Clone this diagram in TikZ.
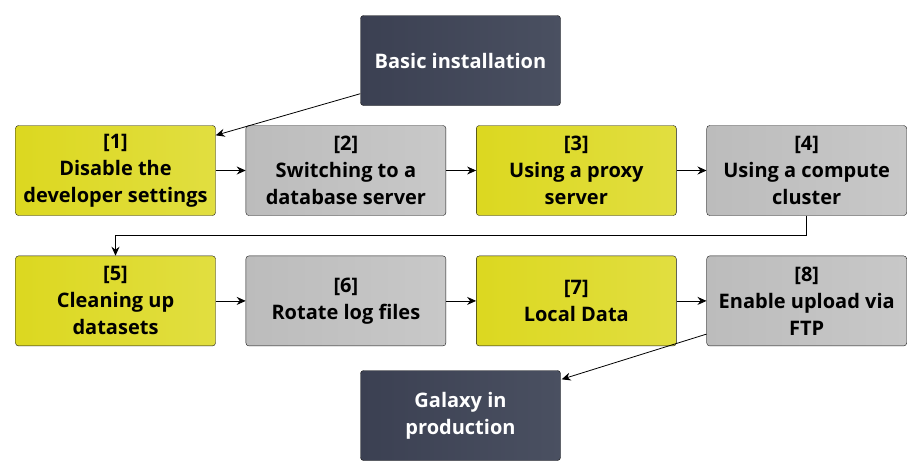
\documentclass[tikz,border=0pt]{standalone}
\usepackage{fontspec}
\setmainfont{Open Sans}
\usepackage{tikz}
\usetikzlibrary{positioning,arrows.meta}
\definecolor{yelL}{HTML}{DCD820}
\definecolor{yelM}{HTML}{D7D300}
\definecolor{yelR}{HTML}{E1DE40}
\definecolor{grL}{HTML}{BCBCBC}
\definecolor{grM}{HTML}{B0B0B0}
\definecolor{grR}{HTML}{C8C8C8}
\definecolor{dkL}{HTML}{3B4052}
\definecolor{dkM}{HTML}{2A2F42}
\definecolor{dkR}{HTML}{4A5061}
\definecolor{edge}{HTML}{181818}
\tikzset{stepbox/.style={draw=edge,rounded corners=3pt,minimum width=200pt,minimum height=90pt,
  align=center,font=\fontsize{20}{27}\selectfont\bfseries,inner sep=0pt},
yelbox/.style={stepbox,left color=yelL,middle color=yelM,right color=yelR},
greybox/.style={stepbox,left color=grL,middle color=grM,right color=grR},
darkbox/.style={stepbox,text=white,left color=dkL,middle color=dkM,right color=dkR},
arr/.style={-{Stealth[length=9pt,width=8pt,inset=3pt]},line width=0.8pt}}

\begin{document}
\begin{tikzpicture}[x=1pt,y=1pt]
\useasboundingbox (0,0) rectangle (921,-475);
\node[darkbox] (basic) at (460.5,-60.5) {Basic installation};
\node[yelbox] (s1) at (115.5,-170.5) {[1]\\Disable the\\developer settings};
\node[greybox,right=30pt of s1] (s2) {[2]\\Switching to a\\database server};
\node[yelbox,right=30pt of s2] (s3) {[3]\\Using a proxy\\server};
\node[greybox,right=30pt of s3] (s4) {[4]\\Using a compute\\cluster};
\node[yelbox,below=40pt of s1] (s5) {[5]\\Cleaning up\\datasets};
\node[greybox,right=30pt of s5] (s6) {[6]\\Rotate log files};
\node[yelbox,right=30pt of s6] (s7) {[7]\\Local Data};
\node[greybox,right=30pt of s7] (s8) {[8]\\Enable upload via\\FTP};
\node[darkbox] (galaxy) at (460.5,-415.5) {Galaxy in\\production};

\draw[arr] ([yshift=12pt]basic.south west) -- ([yshift=-10pt]s1.north east);
\draw[arr] (s1) -- (s2);
\draw[arr] (s2) -- (s3);
\draw[arr] (s3) -- (s4);
\draw[arr] (s4.south) -- ++(0,-20pt) -| (s5.north);
\draw[arr] (s5) -- (s6);
\draw[arr] (s6) -- (s7);
\draw[arr] (s7) -- (s8);
\draw[arr] ([yshift=12pt]s8.south west) -- ([xshift=1pt,yshift=-9pt]galaxy.north east);
\end{tikzpicture}
\end{document}
